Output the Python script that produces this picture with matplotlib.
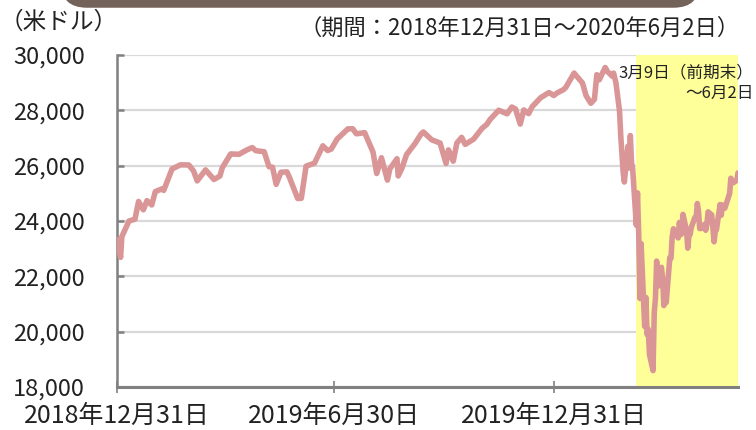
"""Dow Jones closing prices, 2018-12-31 to 2020-06-02."""

import matplotlib
matplotlib.use("Agg")
import matplotlib.pyplot as plt
from matplotlib.patches import FancyBboxPatch
import pandas as pd

plt.rcParams["font.family"] = ["Noto Sans CJK JP", "DejaVu Sans"]

# values (USD), a few points a week, daily through the crash
dates = [
    "2018-12-31", "2019-01-03", "2019-01-04", "2019-01-10", "2019-01-15", "2019-01-18",
    "2019-01-22", "2019-01-25", "2019-01-29", "2019-02-01", "2019-02-07", "2019-02-08",
    "2019-02-15", "2019-02-22", "2019-03-01", "2019-03-05", "2019-03-08", "2019-03-15",
    "2019-03-22", "2019-03-27", "2019-03-29", "2019-04-05", "2019-04-12", "2019-04-18",
    "2019-04-23", "2019-04-26", "2019-05-03", "2019-05-07", "2019-05-10", "2019-05-13",
    "2019-05-17", "2019-05-22", "2019-05-24", "2019-05-31", "2019-06-03", "2019-06-07",
    "2019-06-14", "2019-06-21", "2019-06-25", "2019-06-28", "2019-07-03", "2019-07-12",
    "2019-07-16", "2019-07-19", "2019-07-26", "2019-08-02", "2019-08-05", "2019-08-09",
    "2019-08-14", "2019-08-16", "2019-08-22", "2019-08-23", "2019-08-26", "2019-08-30",
    "2019-09-06", "2019-09-11", "2019-09-13", "2019-09-20", "2019-09-27", "2019-10-02",
    "2019-10-04", "2019-10-08", "2019-10-11", "2019-10-15", "2019-10-18", "2019-10-25",
    "2019-11-01", "2019-11-05", "2019-11-08", "2019-11-15", "2019-11-22", "2019-11-26",
    "2019-11-29", "2019-12-03", "2019-12-06", "2019-12-10", "2019-12-13", "2019-12-20",
    "2019-12-27", "2019-12-31", "2020-01-03", "2020-01-08", "2020-01-10", "2020-01-17",
    "2020-01-24", "2020-01-27", "2020-01-31", "2020-02-03", "2020-02-05", "2020-02-07",
    "2020-02-12", "2020-02-14", "2020-02-18", "2020-02-19", "2020-02-21", "2020-02-24",
    "2020-02-25", "2020-02-27", "2020-02-28", "2020-03-02", "2020-03-03", "2020-03-04",
    "2020-03-05", "2020-03-06", "2020-03-09", "2020-03-10", "2020-03-11", "2020-03-12",
    "2020-03-13", "2020-03-16", "2020-03-17", "2020-03-18", "2020-03-19", "2020-03-20",
    "2020-03-23", "2020-03-24", "2020-03-25", "2020-03-26", "2020-03-27", "2020-03-30",
    "2020-03-31", "2020-04-01", "2020-04-02", "2020-04-03", "2020-04-06", "2020-04-07",
    "2020-04-08", "2020-04-09", "2020-04-13", "2020-04-14", "2020-04-15", "2020-04-16",
    "2020-04-17", "2020-04-20", "2020-04-21", "2020-04-22", "2020-04-23", "2020-04-24",
    "2020-04-27", "2020-04-28", "2020-04-29", "2020-04-30", "2020-05-01", "2020-05-04",
    "2020-05-05", "2020-05-06", "2020-05-07", "2020-05-08", "2020-05-11", "2020-05-12",
    "2020-05-13", "2020-05-14", "2020-05-15", "2020-05-18", "2020-05-19", "2020-05-20",
    "2020-05-21", "2020-05-22", "2020-05-26", "2020-05-27", "2020-05-28", "2020-05-29",
    "2020-06-01", "2020-06-02",
]
closes = [
    23327, 22686, 23433, 24001, 24066, 24706,
    24404, 24737, 24580, 25064, 25169, 25106,
    25883, 26031, 26026, 25806, 25450, 25849,
    25502, 25626, 25929, 26425, 26412, 26559,
    26656, 26543, 26505, 25965, 25942, 25325,
    25764, 25776, 25586, 24815, 24820, 25984,
    26090, 26719, 26548, 26600, 26966, 27332,
    27335, 27154, 27192, 26485, 25718, 26287,
    25479, 25886, 26252, 25629, 25898, 26403,
    26797, 27137, 27220, 26935, 26820, 26078,
    26573, 26164, 26817, 27024, 26770, 26958,
    27347, 27492, 27681, 28005, 27876, 28121,
    28051, 27503, 28015, 27881, 28135, 28455,
    28645, 28538, 28635, 28745, 28824, 29348,
    28990, 28535, 28256, 28400, 29291, 29102,
    29551, 29398, 29232, 29348, 28992, 27961,
    27081, 25767, 25409, 26703, 25917, 27091,
    26121, 25865, 23851, 25018, 23553, 21200,
    23186, 20189, 21237, 19899, 20087, 19174,
    18592, 20704, 21200, 22552, 21637, 22327,
    21917, 20944, 21413, 21053, 22680, 22654,
    23434, 23719, 23390, 23949, 23505, 23538,
    24242, 23650, 23018, 23475, 23516, 23775,
    24134, 24101, 24634, 24346, 23724, 23750,
    23883, 23665, 23876, 24331, 24222, 23764,
    23248, 23625, 23685, 24597, 24207, 24576,
    24474, 24465, 24995, 25548, 25401, 25383,
    25475, 25742,
]

period_start = "2018-12-31"
period_end = "2020-06-02"
highlight_start = "2020-03-09"
x_ticks = ["2018-12-31", "2019-06-30", "2019-12-31"]
x_tick_labels = ["2018年12月31日", "2019年6月30日", "2019年12月31日"]
y_ticks = [18000, 20000, 22000, 24000, 26000, 28000, 30000]

x = pd.to_datetime(dates)

fig = plt.figure(figsize=(7.56, 4.30), dpi=100)
ax = fig.add_axes([0.1548, 0.1, 0.8214, 0.772])

# title bar peeking in at the top
fig.patches.append(
    FancyBboxPatch(
        (0.08, 0.982), 0.846, 0.1,
        boxstyle="round,pad=0,rounding_size=0.035",
        transform=fig.transFigure, facecolor="#736259", edgecolor="none",
        mutation_aspect=1.75,
    )
)

ax.axvspan(pd.Timestamp(highlight_start), pd.Timestamp(period_end),
           color="#ffff99", zorder=1, lw=0)
ax.plot(x, closes, color="#da9696", linewidth=4.0, solid_joinstyle="round",
        solid_capstyle="round", zorder=3)

ax.set_xlim(pd.Timestamp(period_start), pd.Timestamp(period_end))
ax.set_ylim(18000, 30000)
ax.set_yticks(y_ticks)
ax.set_yticklabels([f"{v:,}" for v in y_ticks])
ax.set_xticks(pd.to_datetime(x_ticks))
ax.set_xticklabels(x_tick_labels)

ax.grid(axis="y", color="#d9d9d9", linewidth=1.6, zorder=0)
ax.set_axisbelow(True)
for side in ("top", "right"):
    ax.spines[side].set_visible(False)
ax.spines["left"].set_color("#808080")
ax.spines["left"].set_linewidth(1.8)
ax.spines["bottom"].set_color("#808080")
ax.spines["bottom"].set_linewidth(2.2)
ax.spines["bottom"].set_zorder(4)

ax.tick_params(axis="y", direction="in", length=5, width=1.8, color="#808080",
               labelsize=17, pad=23, labelcolor="#222222")
ax.tick_params(axis="x", direction="inout", length=9, width=1.2, color="#808080",
               labelsize=18, pad=7, labelcolor="#222222")

fig.text(0.0, 0.948, "（米ドル）", fontsize=17, color="#222222", va="center")
fig.text(0.979, 0.935, "（期間：2018年12月31日～2020年6月2日）", fontsize=16,
         color="#222222", va="center", ha="right")
ax.text(0.997, 0.85, "3月9日（前期末）\n～6月2日", transform=fig.transFigure,
        fontsize=12, color="#222222", ha="right", va="top", linespacing=1.3,
        zorder=5)

fig.savefig("out.png", dpi=100)
